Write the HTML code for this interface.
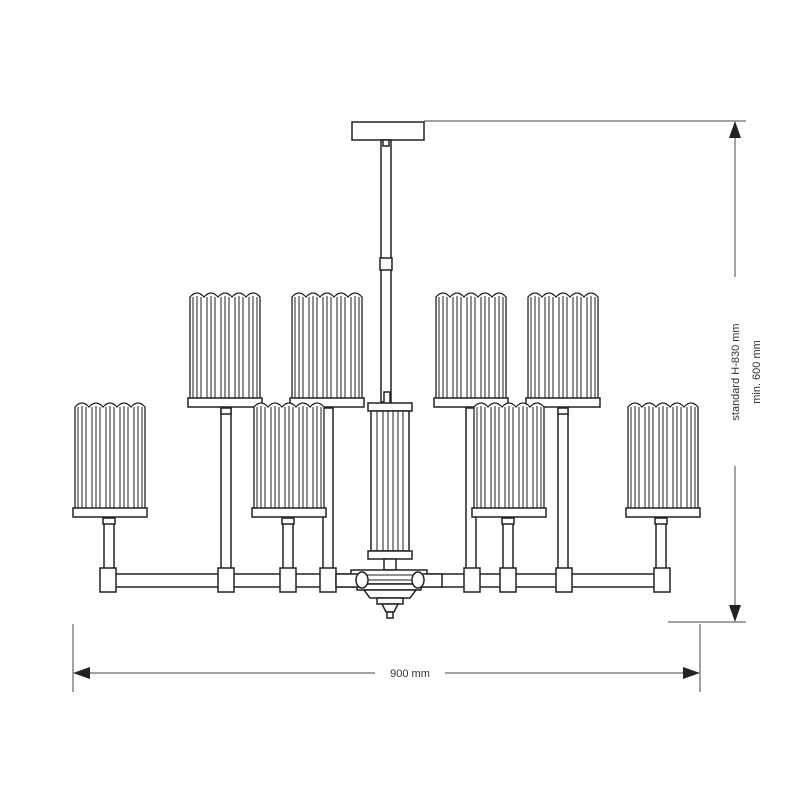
<!DOCTYPE html>
<html><head><style>
html,body{margin:0;padding:0;background:#fff;}
svg{display:block;}
text{font-family:"Liberation Sans",sans-serif;fill:#333;font-size:11px;}
</style></head><body>
<svg width="800" height="800" viewBox="0 0 800 800" xmlns="http://www.w3.org/2000/svg">
<defs>
<g id="shade" stroke="#222" stroke-width="1.3">
  <path fill="#fff" d="M0,108 V5 Q7,-3 14,5 Q21,-3 28,5 Q35,-3 42,5 Q49,-3 56,5 Q63,-3 70,5 V108 Z"/>
  <path fill="none" d="M3,5V108 M7,4V108 M11,5V108 M17,5V108 M21,4V108 M25,5V108 M31,5V108 M35,4V108 M39,5V108 M45,5V108 M49,4V108 M53,5V108 M59,5V108 M63,4V108 M67,5V108" stroke-width="1"/>
  <rect x="-2" y="106" width="74" height="9" fill="#fff" stroke-width="1.5"/>
</g>
</defs>
<g fill="#fff" stroke="#222" stroke-width="1.5">
  <rect x="352" y="122" width="72" height="18"/>
  <rect x="381" y="140" width="10" height="262"/>
  <rect x="380" y="258" width="12" height="12"/>
  <rect x="383" y="140" width="6" height="6"/>
  <rect x="221" y="408" width="10" height="162"/>
  <rect x="323" y="408" width="10" height="162"/>
  <rect x="466" y="408" width="10" height="162"/>
  <rect x="558" y="408" width="10" height="162"/>
  <rect x="104" y="519" width="10" height="52"/>
  <rect x="283" y="519" width="10" height="52"/>
  <rect x="503" y="519" width="10" height="52"/>
  <rect x="656" y="519" width="10" height="52"/>
  <rect x="110" y="574" width="552" height="13"/>
  <rect x="100" y="568" width="16" height="24"/>
  <rect x="218" y="568" width="16" height="24"/>
  <rect x="280" y="568" width="16" height="24"/>
  <rect x="320" y="568" width="16" height="24"/>
  <rect x="464" y="568" width="16" height="24"/>
  <rect x="500" y="568" width="16" height="24"/>
  <rect x="556" y="568" width="16" height="24"/>
  <rect x="654" y="568" width="16" height="24"/>
</g>
<use href="#shade" x="190" y="292"/>
<use href="#shade" x="292" y="292"/>
<use href="#shade" x="436" y="292"/>
<use href="#shade" x="528" y="292"/>
<use href="#shade" x="75" y="402"/>
<use href="#shade" x="254" y="402"/>
<use href="#shade" x="474" y="402"/>
<use href="#shade" x="628" y="402"/>
<g fill="#fff" stroke="#222" stroke-width="1.5">
  <rect x="384" y="392" width="6" height="12"/>
  <rect x="368" y="403" width="44" height="8"/>
  <rect x="371" y="411" width="38" height="140"/>
  <path d="M377,411V551 M383,411V551 M388,411V551 M393,411V551 M398,411V551 M403,411V551" stroke-width="1"/>
  <rect x="368" y="551" width="44" height="8"/>
  <rect x="384" y="559" width="12" height="11"/>
  <rect x="351" y="570" width="76" height="14"/>
  <rect x="357" y="584" width="64" height="6"/>
  <path d="M364,590 H416 L410,598 H370 Z"/>
  <rect x="377" y="598" width="26" height="6"/>
  <path d="M382,604 H398 L394,612 H386 Z"/>
  <rect x="387" y="612" width="6" height="6"/>
  <path d="M363,575 H418 M363,580 H418" stroke-width="1"/>
  <rect x="336" y="574" width="22" height="13"/>
  <rect x="420" y="574" width="22" height="13"/>
  <ellipse cx="362" cy="580" rx="6" ry="8"/>
  <ellipse cx="418" cy="580" rx="6" ry="8"/>
  <rect x="221" y="408" width="10" height="6"/>
  <rect x="558" y="408" width="10" height="6"/>
  <rect x="103" y="518" width="12" height="6"/>
  <rect x="282" y="518" width="12" height="6"/>
  <rect x="502" y="518" width="12" height="6"/>
  <rect x="655" y="518" width="12" height="6"/>
</g>
<g stroke="#444" stroke-width="1" fill="none">
  <path d="M424,121 H746"/>
  <path d="M668,622 H746"/>
  <path d="M735,130 V277 M735,466 V614"/>
  <path d="M73,624 V692 M700,624 V692"/>
  <path d="M82,673 H375 M445,673 H691"/>
</g>
<g fill="#222">
  <path d="M735,121 L729,138 H741 Z"/>
  <path d="M735,622 L729,605 H741 Z"/>
  <path d="M73,673 L90,667 V679 Z"/>
  <path d="M700,673 L683,667 V679 Z"/>
</g>
<text x="410" y="677" text-anchor="middle">900 mm</text>
<text transform="translate(739,372) rotate(-90)" text-anchor="middle">standard H-830 mm</text>
<text transform="translate(760,372) rotate(-90)" text-anchor="middle">min. 600 mm</text>
</svg>
</body></html>
